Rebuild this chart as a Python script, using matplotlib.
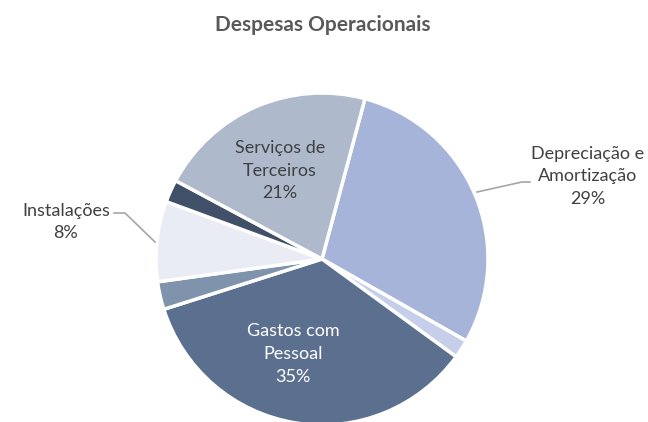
import numpy as np
import matplotlib.pyplot as plt

plt.rcParams['font.family'] = ['Lato', 'DejaVu Sans']

# slices, clockwise from just right of the top
categories = ["Depreciação e\nAmortização", "Outras A", "Gastos com\nPessoal",
              "Outras B", "Instalações", "Outras C", "Serviços de\nTerceiros"]
values = [29.0, 1.8, 35.0, 2.7, 7.8, 2.2, 21.3]
colors = ["#a7b4da", "#c6cfe9", "#5b6f8f", "#7f93ad", "#e9ecf5", "#405069", "#aebacc"]

W, H = 648, 422
fig = plt.figure(figsize=(W / 100, H / 100), dpi=100)
ax = fig.add_axes([0, 0, 1, 1])

cx, cy, R = 322, H - 259, 166
ax.pie(values, colors=colors, startangle=75, counterclock=False,
       center=(cx, cy), radius=R, frame=True,
       wedgeprops=dict(edgecolor='white', linewidth=2.5))
ax.set_xlim(0, W)
ax.set_ylim(0, H)
ax.set_aspect('equal')
ax.axis('off')

total = sum(values)
pct = [f"{round(v / total * 100):.0f}%" for v in values]
fs = 13
ls = 1.5

# inside labels
ax.text(280, H - 171, f"{categories[6]}\n{pct[6]}", ha='center', va='center',
        fontsize=fs, color='#404040', linespacing=ls)
ax.text(293, H - 354, f"{categories[2]}\n{pct[2]}", ha='center', va='center',
        fontsize=fs, color='white', linespacing=ls)

# outside labels with leader lines
ax.text(588, H - 176, f"{categories[0]}\n{pct[0]}", ha='center', va='center',
        fontsize=fs, color='#404040', linespacing=ls)
ax.plot([477, 522, 530], [H - 192, H - 182, H - 182], color='#a6a6a6', lw=1.2)

ax.text(66, H - 222, f"{categories[4]}\n{pct[4]}", ha='center', va='center',
        fontsize=fs, color='#404040', linespacing=ls)
ax.plot([114, 125, 155], [H - 213, H - 213, H - 242], color='#a6a6a6', lw=1.2)

ax.text(323, H - 25, "Despesas Operacionais", ha='center', va='center',
        fontsize=15, fontweight='bold', color='#595959')

fig.savefig("out.png", dpi=100)
